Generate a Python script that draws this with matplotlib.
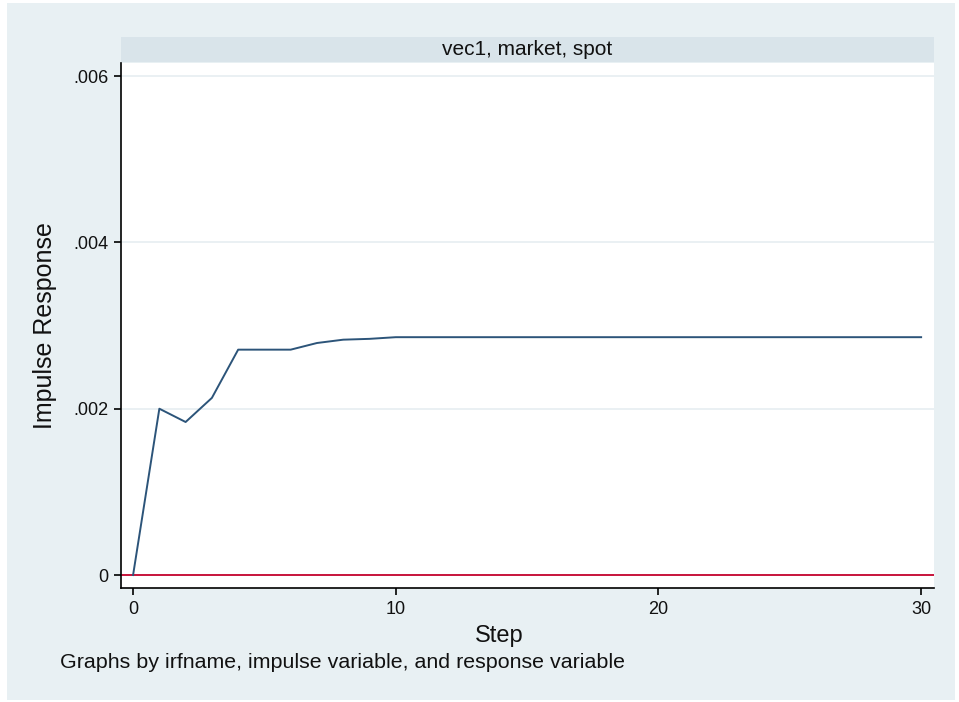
import matplotlib
matplotlib.use("Agg")
import matplotlib.pyplot as plt
from matplotlib.patches import Rectangle

plt.rcParams['font.family'] = ['Liberation Sans', 'DejaVu Sans']

steps = list(range(0, 31))
irf = [0.0, 0.00200, 0.00184, 0.00213, 0.00271, 0.00271, 0.00271, 0.00279,
       0.00283, 0.00284] + [0.00286] * 21
yticks = [0, 0.002, 0.004, 0.006]
ytick_labels = ["0", ".002", ".004", ".006"]
xticks = [0, 10, 20, 30]
panel_title = "vec1, market, spot"
note = "Graphs by irfname, impulse variable, and response variable"

W, H = 959, 702
fig = plt.figure(figsize=(W / 100, H / 100), dpi=100, facecolor="white")
bg = "#e8f0f3"
fig.patches.append(Rectangle((7 / W, 1 - 700 / H), (955 - 7) / W, (700 - 3) / H,
                             transform=fig.transFigure, facecolor=bg, edgecolor="none", zorder=-5))

# plot area
x0, x1 = 121, 934
y0, y1 = 63, 588
ax = fig.add_axes([x0 / W, 1 - y1 / H, (x1 - x0) / W, (y1 - y0) / H])
ax.set_facecolor("white")

# strip header
strip = fig.add_axes([x0 / W, 1 - 62 / H, (x1 - x0) / W, (62 - 37) / H])
strip.set_facecolor("#d9e4ea")
strip.set_xticks([]); strip.set_yticks([])
for s in strip.spines.values():
    s.set_visible(False)
strip.text(0.5, 0.5, panel_title, ha="center", va="center", fontsize=15, color="#111111",
           transform=strip.transAxes)

ax.plot(steps, irf, color="#2c5479", lw=1.4, zorder=3)
ax.axhline(0, color="#c8143c", lw=1.4, zorder=2)

ax.set_xlim(-0.46, 30.49)
ax.set_ylim(-0.000156, 0.006157)
ax.set_yticks(yticks)
ax.set_yticklabels(ytick_labels)
ax.set_xticks(xticks)
ax.grid(axis="y", color="#e6eef1", lw=1.2)
ax.set_axisbelow(True)

for side in ["top", "right"]:
    ax.spines[side].set_visible(False)
for side in ["left", "bottom"]:
    ax.spines[side].set_color("black")
    ax.spines[side].set_linewidth(1.2)

ax.tick_params(axis="both", direction="out", length=5, width=1.2, color="black",
               labelsize=13, labelcolor="#111111", pad=4)

fig.text(499 / W, 1 - 636 / H, "Step", fontsize=17, color="#111111", ha="center", va="center")
ax.set_ylabel("Impulse Response", fontsize=18, color="#111111", labelpad=12)

fig.text(60 / W, 1 - 662 / H, note, fontsize=15.4, color="#111111", ha="left", va="center")

fig.savefig("out.png", dpi=100, facecolor="white")
